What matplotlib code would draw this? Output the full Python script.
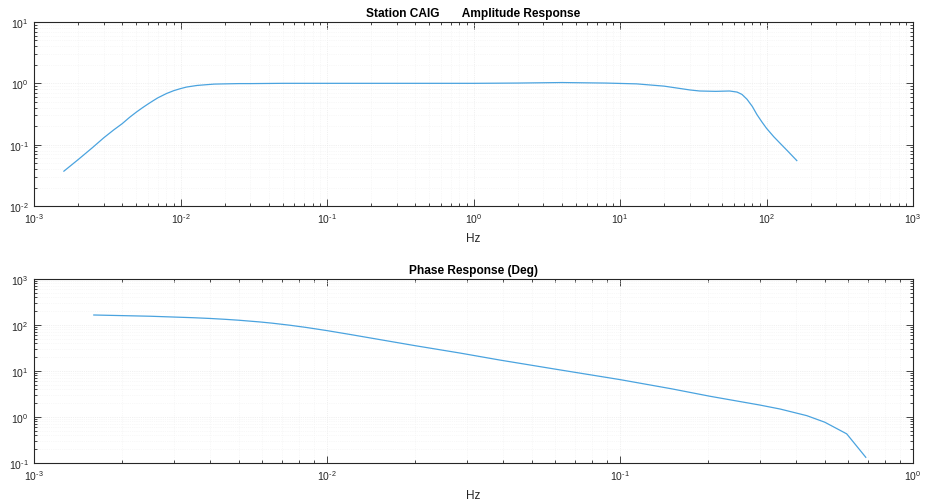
import matplotlib
matplotlib.use("Agg")
import numpy as np
import matplotlib.pyplot as plt
from matplotlib.ticker import LogLocator, NullFormatter, FuncFormatter

plt.rcParams['font.family'] = ['Liberation Sans', 'DejaVu Sans']
plt.rcParams['mathtext.fontset'] = 'custom'
plt.rcParams['mathtext.rm'] = 'Liberation Sans'
plt.rcParams['mathtext.it'] = 'Liberation Sans'
plt.rcParams['mathtext.bf'] = 'Liberation Sans:bold'
plt.rcParams['axes.unicode_minus'] = False

# ---- data ----
amp_freq = [0.0016, 0.002, 0.0025, 0.003, 0.0035, 0.004, 0.0045, 0.005, 0.0055, 0.006,
            0.0065, 0.007, 0.008, 0.009, 0.01, 0.011, 0.013, 0.015, 0.017, 0.02, 0.025,
            0.03, 0.05, 0.1, 0.3, 1, 2, 4, 8, 13, 20, 30, 35, 45, 56, 63, 68, 73.6,
            80, 86, 93, 100, 112, 124, 140, 161]
amp_vals = [0.037, 0.057, 0.089, 0.13, 0.174, 0.22, 0.28, 0.34, 0.40, 0.46,
            0.52, 0.58, 0.68, 0.76, 0.82, 0.87, 0.924, 0.95, 0.972, 0.98, 0.99,
            0.99, 1.0, 1.0, 1.0, 1.0, 1.01, 1.03, 1.01, 0.98, 0.90, 0.78, 0.75, 0.74, 0.75, 0.72, 0.66, 0.55,
            0.42, 0.31, 0.235, 0.185, 0.135, 0.105, 0.078, 0.055]

phase_freq = [0.0016, 0.0025, 0.0035, 0.004, 0.0045, 0.005, 0.0059, 0.0065, 0.0075, 0.0085,
              0.01, 0.012, 0.014, 0.02, 0.0284, 0.0389, 0.06, 0.1, 0.15, 0.203, 0.3,
              0.352, 0.434, 0.5, 0.594, 0.69]
phase_vals = [165, 155, 144, 138.6, 132.8, 127, 116.5, 109.6, 98.5, 88.4,
              75.5, 62.2, 52.5, 35.5, 24.6, 17.3, 11, 6.5, 4.1, 2.82, 1.82,
              1.49, 1.07, 0.77, 0.43, 0.133]

amp_title = "Station CAIG       Amplitude Response"
phase_title = "Phase Response (Deg)"
xlabel = "Hz"

line_color = '#4aa3df'
axis_color = '#262626'

fig = plt.figure(figsize=(9.26, 5.02), dpi=100)
W, H = 926, 502


def make_axes(left, top, right, bottom):
    return fig.add_axes([left / W, 1 - bottom / H, (right - left) / W, (bottom - top) / H])


def pow_label(v, pos):
    e = int(round(np.log10(v)))
    return r'$10^{\text{%d}}$' % e


def style(ax, xlim, ylim):
    ax.set_xscale('log')
    ax.set_yscale('log')
    ax.set_xlim(*xlim)
    ax.set_ylim(*ylim)
    ax.xaxis.set_major_locator(LogLocator(base=10, numticks=20))
    ax.yaxis.set_major_locator(LogLocator(base=10, numticks=20))
    ax.xaxis.set_minor_locator(LogLocator(base=10, subs=range(2, 10), numticks=20))
    ax.yaxis.set_minor_locator(LogLocator(base=10, subs=range(2, 10), numticks=20))
    ax.xaxis.set_minor_formatter(NullFormatter())
    ax.yaxis.set_minor_formatter(NullFormatter())
    ax.xaxis.set_major_formatter(FuncFormatter(pow_label))
    ax.yaxis.set_major_formatter(FuncFormatter(pow_label))
    ax.tick_params(which='both', direction='in', top=True, right=True,
                   colors=axis_color, labelsize=7.5, width=0.6)
    ax.tick_params(which='major', length=5, pad=4)
    ax.tick_params(which='minor', length=2.5)
    for s in ax.spines.values():
        s.set_color(axis_color)
        s.set_linewidth(0.8)
    ax.grid(True, which='major', linestyle=':', color='#e4e4e4', linewidth=0.5)
    ax.grid(True, which='minor', linestyle=':', color='#f1f1f1', linewidth=0.5)
    ax.set_axisbelow(True)


ax1 = make_axes(34, 23, 913, 207)
style(ax1, (1e-3, 1e3), (1e-2, 1e1))
ax1.plot(amp_freq, amp_vals, color=line_color, linewidth=0.9)
ax1.set_title(amp_title, fontsize=8.6, fontweight='bold', pad=4)
ax1.set_xlabel(xlabel, fontsize=8.5, color=axis_color, labelpad=5)

ax2 = make_axes(34, 280, 913, 464)
style(ax2, (1e-3, 1e0), (1e-1, 1e3))
ax2.plot(phase_freq, phase_vals, color=line_color, linewidth=0.9)
ax2.set_title(phase_title, fontsize=8.6, fontweight='bold', pad=4)
ax2.set_xlabel(xlabel, fontsize=8.5, color=axis_color, labelpad=5)

fig.savefig("out.png", dpi=100)
